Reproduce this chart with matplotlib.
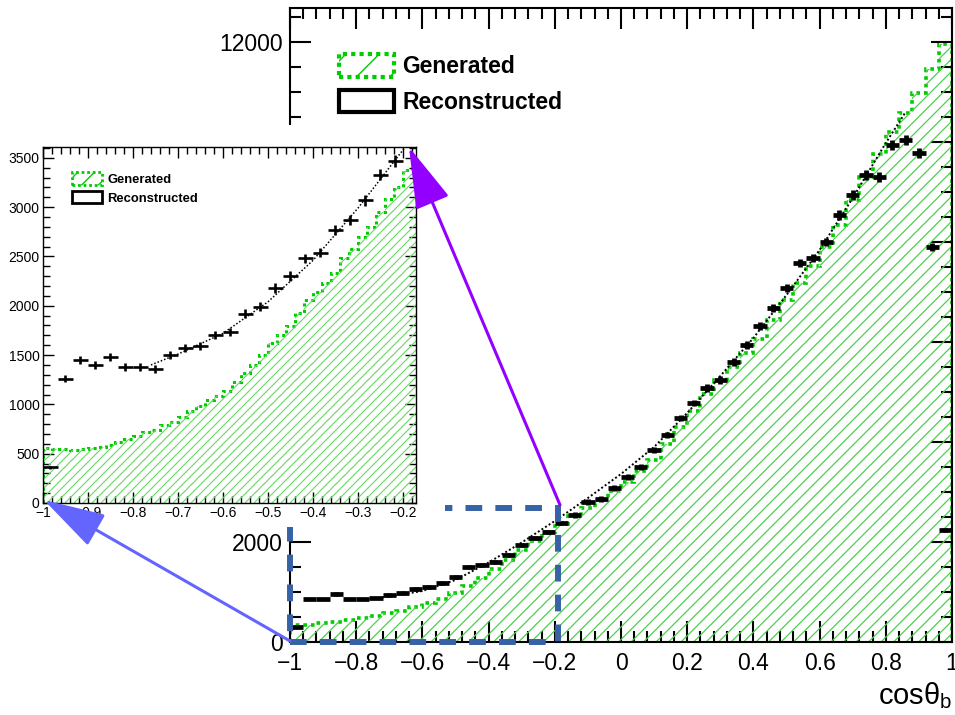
import numpy as np
import matplotlib
matplotlib.use("Agg")
import matplotlib.pyplot as plt
from matplotlib.patches import Patch, Rectangle, FancyArrowPatch
from matplotlib.collections import LineCollection
from matplotlib.transforms import IdentityTransform
from matplotlib.ticker import MultipleLocator, FuncFormatter

plt.rcParams["font.family"] = "Liberation Sans"
plt.rcParams["mathtext.fontset"] = "custom"
plt.rcParams["mathtext.rm"] = "Liberation Sans"
plt.rcParams["mathtext.it"] = "Liberation Sans:italic"
plt.rcParams["hatch.linewidth"] = 1.0

# ---- main panel: 50 bins over cos(theta_b) ----
main_edges = np.linspace(-1, 1, 51)
gen_main = [340, 350, 380, 400, 440, 490, 520, 580, 630, 700,
            780, 860, 980, 1130, 1290, 1460, 1650, 1840, 2020, 2200,
            2360, 2520, 2680, 2850, 3030, 3200, 3420, 3640, 3960, 4300,
            4620, 4950, 5240, 5500, 5780, 6060, 6440, 6840, 7180, 7520,
            7900, 8340, 8840, 9300, 9760, 10200, 10580, 10980, 11450, 11950]
rec_main = [300, 860, 860, 960, 860, 860, 880, 940, 980, 1060,
            1100, 1180, 1300, 1500, 1540, 1600, 1740, 1940, 2080, 2200,
            2380, 2540, 2800, 2860, 3080, 3300, 3500, 3840, 4140, 4480,
            4780, 5080, 5240, 5600, 5940, 6320, 6680, 7080, 7580, 7680,
            8000, 8540, 8940, 9340, 9300, 9940, 10040, 9780, 7900, 2240]
fit_main_x = [-0.76, -0.7, -0.6, -0.5, -0.4, -0.3, -0.2, -0.1, 0.0,
              0.1, 0.2, 0.3, 0.4, 0.5, 0.6, 0.7, 0.8, 0.86]
fit_main_y = [860, 910, 1020, 1240, 1590, 1990, 2420, 2880, 3360,
              3900, 4580, 5320, 6080, 6940, 7840, 8880, 9980, 10600]

# ---- zoom panel ----
# generated: bins of 0.02 from -1 to -0.16
gen_zoom_edges = np.linspace(-1, -0.16, 43)
gen_zoom = [560, 550, 545, 540, 545, 555, 570, 590, 620, 650,
            680, 720, 740, 790, 820, 870, 930, 980, 1040, 1090,
            1140, 1230, 1320, 1400, 1500, 1620, 1700, 1790, 1930, 2060,
            2140, 2230, 2330, 2480, 2580, 2700, 2800, 2950, 3080, 3200,
            3380, 3470]
# reconstructed: bins of 1/30, first 25
rec_zoom_edges = -1 + np.arange(26) / 30
rec_zoom = [360, 1260, 1450, 1400, 1480, 1380, 1380, 1360, 1500, 1570,
            1590, 1700, 1730, 1920, 1990, 2180, 2300, 2480, 2540, 2770,
            2870, 3070, 3330, 3470, 3700]
fit_zoom_x = [-0.76, -0.7, -0.6, -0.5, -0.4, -0.3, -0.2, -0.185]
fit_zoom_y = [1400, 1510, 1720, 2040, 2460, 2990, 3580, 3680]

labels = ["Generated", "Reconstructed"]

W, H = 955, 715
GEN = "#00cc00"
HATCH = "#4fcf4f"


def fx(p):
    return p / W


def fy(p):
    return 1 - p / H


def fmt(v, pos):
    s = "{:g}".format(round(v, 3) + 0.0)
    return s.replace("-", "\u2212")


def root_style(ax, xmaj, xmin, ymaj, ymin, majlen, minlen, lw, fs, pad):
    ax.xaxis.set_major_locator(MultipleLocator(xmaj))
    ax.xaxis.set_minor_locator(MultipleLocator(xmin))
    ax.yaxis.set_major_locator(MultipleLocator(ymaj))
    ax.yaxis.set_minor_locator(MultipleLocator(ymin))
    ax.xaxis.set_major_formatter(FuncFormatter(fmt))
    ax.yaxis.set_major_formatter(FuncFormatter(fmt))
    ax.tick_params(which="both", direction="in", top=True, right=True,
                   width=lw, labelsize=fs, pad=pad)
    ax.tick_params(which="major", length=majlen)
    ax.tick_params(which="minor", length=minlen)
    for s in ax.spines.values():
        s.set_linewidth(lw)


def hatch_hist(ax, edges, vals, spacing, color, lw):
    poly = ax.stairs(vals, edges, baseline=0, fill=True,
                     facecolor="none", edgecolor="none", linewidth=0)
    bb = ax.get_window_extent()
    segs = []
    c = -bb.height
    while c < bb.width:
        segs.append([(bb.x0 + c, bb.y0), (bb.x0 + c + bb.height, bb.y0 + bb.height)])
        c += spacing
    lc = LineCollection(segs, colors=color, linewidths=lw, transform=IdentityTransform())
    ax.add_collection(lc, autolim=False)
    lc.set_clip_path(poly)


fig = plt.figure(figsize=(W / 100, H / 100), dpi=100)

# ======================
# main panel
# ======================
ax = fig.add_axes([fx(290), fy(642), 662 / W, 634 / H], zorder=0)
hatch_hist(ax, main_edges, gen_main, 12.5, HATCH, 0.9)
ax.stairs(gen_main, main_edges, color=GEN, linewidth=2.6, linestyle=(0, (1, 1.1)))
ax.plot(fit_main_x, fit_main_y, color="black", linewidth=1.4, linestyle=(0, (1, 1.2)))
cm = 0.5 * (main_edges[:-1] + main_edges[1:])
ax.errorbar(cm, rec_main, xerr=0.02, yerr=np.sqrt(rec_main), fmt="none",
            ecolor="black", elinewidth=3.4, capsize=0)
ax.set_xlim(-1, 1)
ax.set_ylim(0, 12680)
root_style(ax, 0.2, 0.04, 2000, 500, 15, 8, 1.5, 16.5, 7)
ax.tick_params(axis="y", pad=5)
ax.set_xlabel(r"$\mathrm{cos\theta_{b}}$", loc="right", fontsize=21, labelpad=4)

h_gen = Patch(facecolor="white", edgecolor=GEN, hatch="/", linestyle=(0, (1, 1)), linewidth=3)
h_rec = Patch(facecolor="white", edgecolor="black", linewidth=3)
ax.legend([h_gen, h_rec], labels, loc="upper left", frameon=False,
          bbox_to_anchor=(fx(339), fy(54)), bbox_transform=fig.transFigure,
          borderaxespad=0, borderpad=0, handlelength=2.4, handleheight=1.15,
          handletextpad=0.35, labelspacing=0.5,
          prop={"size": 16.5, "weight": "bold"})

# dashed box marking the zoomed region
box = Rectangle((-1, 0), 0.81, 2680, transform=ax.transData, fill=False,
                edgecolor="#3763a6", linewidth=4.3, linestyle=(0, (2.8, 2.2)),
                clip_on=False, zorder=0.5)
fig.add_artist(box)

# white area behind the zoom panel
fig.add_artist(Rectangle((0, fy(527)), fx(445), (527 - 125) / H,
                         transform=fig.transFigure, facecolor="white",
                         edgecolor="none", zorder=1))

# ======================
# zoom panel
# ======================
ax2 = fig.add_axes([fx(43), fy(503), 373 / W, 356 / H], zorder=2)
ax2.set_facecolor("white")
hatch_hist(ax2, gen_zoom_edges, gen_zoom, 9, "#66d866", 0.8)
ax2.stairs(gen_zoom, gen_zoom_edges, color=GEN, linewidth=2.2, linestyle=(0, (1, 1.1)))
ax2.plot(fit_zoom_x, fit_zoom_y, color="black", linewidth=1.1, linestyle=(0, (1, 1.3)))
cz = 0.5 * (rec_zoom_edges[:-1] + rec_zoom_edges[1:])
ax2.errorbar(cz, rec_zoom, xerr=1 / 60, yerr=np.sqrt(rec_zoom), fmt="none",
             ecolor="black", elinewidth=1.9, capsize=0)
ax2.set_xlim(-1, -0.171)
ax2.set_ylim(0, 3610)
root_style(ax2, 0.1, 0.02, 500, 100, 8, 5, 1.0, 10, 2.5)

h_gen2 = Patch(facecolor="white", edgecolor=GEN, hatch="//", linestyle=(0, (1, 1)), linewidth=2)
h_rec2 = Patch(facecolor="white", edgecolor="black", linewidth=2)
ax2.legend([h_gen2, h_rec2], labels, loc="upper left", frameon=False,
           bbox_to_anchor=(fx(72), fy(172)), bbox_transform=fig.transFigure,
           borderaxespad=0, borderpad=0, handlelength=2.3, handleheight=1.1,
           handletextpad=0.4, labelspacing=0.4,
           prop={"size": 9.4, "weight": "bold"})

# ======================
# arrows
# ======================
a1 = FancyArrowPatch((fx(560), fy(505)), (fx(409), fy(147)), transform=fig.transFigure,
                     arrowstyle="-|>,head_length=0.55,head_width=0.16", mutation_scale=70,
                     color="#9400ff", linewidth=2.2, shrinkA=0, shrinkB=0, zorder=3)
a2 = FancyArrowPatch((fx(290), fy(641)), (fx(44), fy(500)), transform=fig.transFigure,
                     arrowstyle="-|>,head_length=0.55,head_width=0.16", mutation_scale=70,
                     color="#6464ff", linewidth=2.2, shrinkA=0, shrinkB=0, zorder=3)
fig.add_artist(a1)
fig.add_artist(a2)

fig.savefig("out.png", dpi=100)
